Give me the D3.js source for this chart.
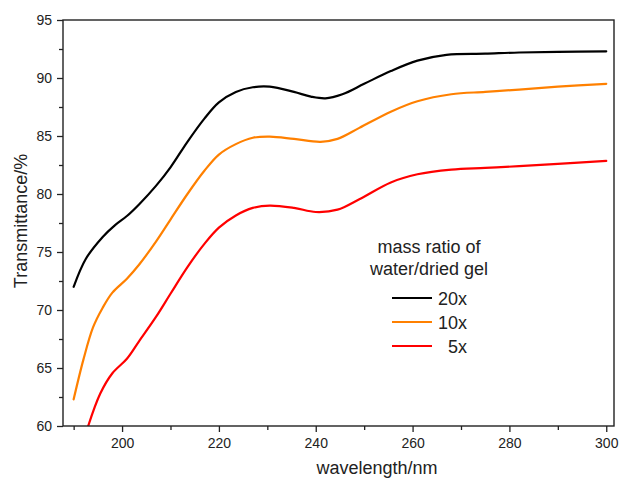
<!DOCTYPE html>
<html>
<head>
<meta charset="utf-8">
<script src="https://cdn.jsdelivr.net/npm/d3@7"></script>
<style>
  html, body { margin: 0; padding: 0; background: #fff; }
  svg { display: block; font-family: "Liberation Sans", Arial, sans-serif; }
</style>
</head>
<body>
<svg id="chart" width="619" height="478"></svg>
<script>
// Transmittance spectra of gels at three water/dried-gel mass ratios
const wl20 = [190, 192.5, 196, 198.5, 201, 203.5, 207, 210, 213.5, 217, 220, 223.5, 227, 230.5, 235.5, 239, 242, 245.5, 250, 255.5, 261, 267, 275, 282, 290, 300];
const t20  = [72.0, 74.4, 76.3, 77.3, 78.1, 79.1, 80.7, 82.3, 84.5, 86.5, 87.9, 88.8, 89.2, 89.25, 88.8, 88.4, 88.25, 88.6, 89.5, 90.6, 91.5, 92.0, 92.1, 92.2, 92.25, 92.3];

const wl10 = [190, 192, 194, 196, 198, 201, 203.5, 207, 210, 213.5, 217, 220, 223.5, 227, 230.5, 235.5, 241, 244.5, 249, 255.5, 261, 268, 275, 282, 290, 300];
const t10  = [62.3, 65.7, 68.5, 70.2, 71.5, 72.7, 73.9, 75.9, 77.8, 80.0, 82.0, 83.4, 84.3, 84.85, 84.95, 84.75, 84.5, 84.75, 85.7, 87.1, 88.0, 88.6, 88.8, 89.0, 89.25, 89.5];

const wl5  = [193, 195.5, 198, 201, 203.5, 207, 210, 213.5, 217, 220, 223.5, 227, 230.5, 235.5, 240, 244.5, 249, 255.5, 261, 268, 275, 282, 290, 300];
const t5   = [60.0, 62.8, 64.55, 65.8, 67.3, 69.4, 71.4, 73.7, 75.7, 77.1, 78.15, 78.8, 79.0, 78.8, 78.45, 78.65, 79.55, 81.0, 81.7, 82.1, 82.25, 82.4, 82.6, 82.85];

const seriesNames  = ["20x", "10x", "5x"];
const seriesColors = ["#000000", "#ff8000", "#ff0000"];
const xMajorTicks = [200, 220, 240, 260, 280, 300];
const xMinorTicks = [190, 210, 230, 250, 270, 290];
const yMajorTicks = [60, 65, 70, 75, 80, 85, 90, 95];
const yMinorTicks = [62.5, 67.5, 72.5, 77.5, 82.5, 87.5, 92.5];
const legendTitle = ["mass ratio of", "water/dried gel"];

const series = [
  { name: seriesNames[0], color: seriesColors[0], pts: wl20.map((w, i) => [w, t20[i]]) },
  { name: seriesNames[1], color: seriesColors[1], pts: wl10.map((w, i) => [w, t10[i]]) },
  { name: seriesNames[2], color: seriesColors[2], pts: wl5.map((w, i) => [w, t5[i]]) }
];

const svg = d3.select("#chart");
const L = 63, R = 614, T = 20, B = 426;

const x = d3.scaleLinear().domain([187.8, 301.6]).range([L, R]);
const y = d3.scaleLinear().domain([60, 95]).range([B, T]);

svg.append("defs").append("clipPath").attr("id", "plotclip")
  .append("rect").attr("x", L).attr("y", T).attr("width", R - L).attr("height", B - T);

// curves
const line = d3.line()
  .x(d => x(d[0]))
  .y(d => y(d[1]))
  .curve(d3.curveCatmullRom.alpha(0.5));

svg.append("g").attr("clip-path", "url(#plotclip)")
  .selectAll("path").data(series).join("path")
  .attr("d", d => line(d.pts))
  .attr("fill", "none")
  .attr("stroke", d => d.color)
  .attr("stroke-width", 2.2)
  .attr("stroke-linejoin", "round")
  .attr("stroke-linecap", "round");

// axes
const axisColor = "#222";
const xAxis = svg.append("g").attr("transform", `translate(0,${B})`)
  .call(d3.axisBottom(x).tickValues(xMajorTicks).tickSize(6).tickPadding(6).tickFormat(d3.format("d")));
const xMinor = svg.append("g").attr("transform", `translate(0,${B})`)
  .call(d3.axisBottom(x).tickValues(xMinorTicks).tickSize(4).tickFormat(""));
const yAxis = svg.append("g").attr("transform", `translate(${L},0)`)
  .call(d3.axisLeft(y).tickValues(yMajorTicks).tickSize(6).tickPadding(5).tickFormat(d3.format("d")));
const yMinor = svg.append("g").attr("transform", `translate(${L},0)`)
  .call(d3.axisLeft(y).tickValues(yMinorTicks).tickSize(4).tickFormat(""));

[xAxis, xMinor, yAxis, yMinor].forEach(g => {
  g.select(".domain").remove();
  g.selectAll("line").attr("stroke", axisColor).attr("stroke-width", 1.3);
  g.selectAll("text").attr("fill", "#222").style("font-size", "14px")
    .style("font-family", "'Liberation Sans', Arial, sans-serif");
});

// frame
svg.append("rect")
  .attr("x", L).attr("y", T).attr("width", R - L).attr("height", B - T)
  .attr("fill", "none").attr("stroke", axisColor).attr("stroke-width", 1.4);

// axis titles
svg.append("text")
  .attr("x", 377).attr("y", 474)
  .attr("text-anchor", "middle")
  .style("font-size", "18px").attr("fill", "#222")
  .text("wavelength/nm");

svg.append("text")
  .attr("transform", "translate(27,221) rotate(-90)")
  .attr("text-anchor", "middle")
  .style("font-size", "18px").attr("fill", "#222")
  .text("Transmittance/%");

// legend
const lg = svg.append("g");
lg.selectAll("text.title").data(legendTitle).join("text")
  .attr("class", "title")
  .attr("x", 429).attr("y", (d, i) => 253 + i * 22)
  .attr("text-anchor", "middle")
  .style("font-size", "18px").attr("fill", "#222")
  .text(d => d);

const rows = lg.selectAll("g.row").data(series).join("g")
  .attr("class", "row")
  .attr("transform", (d, i) => `translate(0,${298 + i * 24})`);
rows.append("line")
  .attr("x1", 392).attr("x2", 432).attr("y1", 0).attr("y2", 0)
  .attr("stroke", d => d.color).attr("stroke-width", 2.2);
rows.append("text")
  .attr("x", 467).attr("y", 6.5)
  .attr("text-anchor", "end")
  .style("font-size", "18px").attr("fill", "#222")
  .text(d => d.name);
</script>
</body>
</html>
